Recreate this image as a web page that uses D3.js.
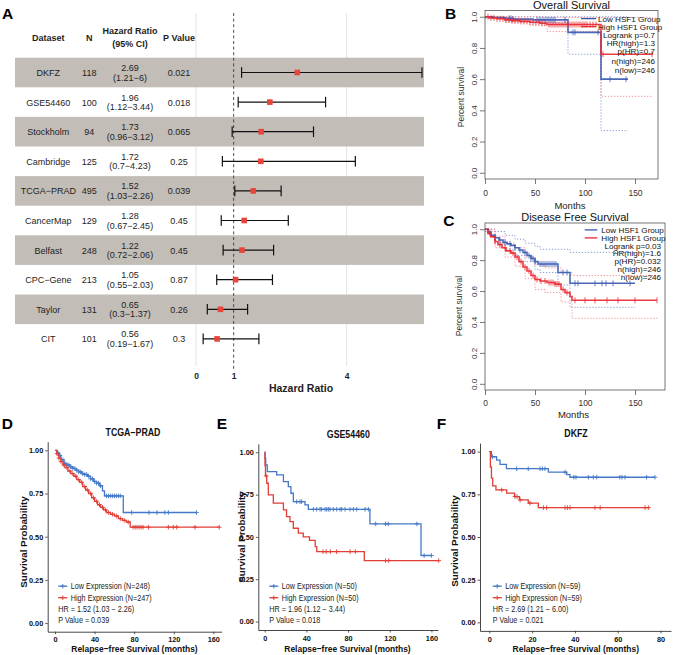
<!DOCTYPE html>
<html><head><meta charset="utf-8">
<script src="https://cdn.jsdelivr.net/npm/d3@7/dist/d3.min.js"></script>
<style>
html,body{margin:0;padding:0;background:#fff;}
svg{display:block;}
text{font-family:'Liberation Sans',Arial,Helvetica,sans-serif;}
</style></head><body>
<svg id="fig" width="676" height="655"></svg>
<script>
// ================= DATA =================
// Panel A: forest plot
const datasets = ["DKFZ","GSE54460","Stockholm","Cambridge","TCGA\u2212PRAD","CancerMap","Belfast","CPC\u2212Gene","Taylor","CIT"];
const sampleN  = [118,100,94,125,495,129,248,213,131,101];
const hr       = [2.69,1.96,1.73,1.72,1.52,1.28,1.22,1.05,0.65,0.56];
const hrLow    = [1.21,1.12,0.96,0.7,1.03,0.67,0.72,0.55,0.3,0.19];
const hrHigh   = [6,3.44,3.12,4.23,2.26,2.45,2.06,2.03,1.37,1.67];
const pValues  = ["0.021","0.018","0.065","0.25","0.039","0.45","0.45","0.87","0.26","0.3"];
const hrTicks  = [0,1,4];

// Panel B: Overall Survival (GEPIA)
const bLowT = [0,8,20,28,48,83,116];
const bLowS = [1.0,0.995,0.99,0.985,0.98,0.90,0.60];
const bLowEnd = 143;
const bLowCens = [24,26,28,52,54,56,58,60,62,64,66,68,70,80,88,90,113,125,141];
const bHighT = [0,5,12,20,27,35,45,55,62,116];
const bHighS = [1.0,0.993,0.987,0.98,0.975,0.97,0.965,0.958,0.95,0.76];
const bHighEnd = 168;
const bHighCens = [3,6,9,12,15,18,21,24,27,30,33,36,39,42,45,48,51,54,57,60,64,66,68,70,72,74,76,78,80,82,84,86,88,90,92,94,96,98,100,102,105,108,111,118,167];
const bLowUpT = [0,116]; const bLowUpS = [1.0,1.0]; const bLowUpEnd = 143;
const bLowLoT = [0,20,48,83,116]; const bLowLoS = [0.99,0.975,0.96,0.76,0.27]; const bLowLoEnd = 143;
const bHighUpT = [0,62,116]; const bHighUpS = [1.0,0.995,0.995]; const bHighUpEnd = 168;
const bHighLoT = [0,20,45,62,116]; const bHighLoS = [0.99,0.965,0.945,0.905,0.49]; const bHighLoEnd = 168;
const bStats = ["Logrank p=0.7","HR(high)=1.3","p(HR)=0.7","n(high)=246","n(low)=246"];

// Panel C: Disease Free Survival (GEPIA)
const cLowT = [0,3,6,10,14,18,22,26,30,34,38,42,46,50,53,73,85];
const cLowS = [1.0,0.98,0.96,0.945,0.93,0.915,0.905,0.895,0.88,0.865,0.85,0.83,0.81,0.79,0.775,0.72,0.65];
const cLowEnd = 150;
const cLowCens = [5,10,15,20,25,30,35,40,44,46,48,50,55,57,59,61,63,65,67,69,71,78,82,90,93,110,117,121,128,145];
const cHighT = [0,3,6,10,13,17,21,26,30,34,38,42,46,50,55,62,70,76,80,85,87];
const cHighS = [1.0,0.97,0.95,0.92,0.90,0.88,0.86,0.845,0.82,0.79,0.755,0.73,0.70,0.675,0.665,0.655,0.645,0.61,0.59,0.565,0.54];
const cHighEnd = 172;
const cHighCens = [5,10,15,20,25,28,32,36,40,44,48,52,56,60,64,66,68,70,72,74,78,82,90,100,110,122,133,150,172];
const cLowUpT = [0,10,20,30,40,50,55,85]; const cLowUpS = [1.0,0.985,0.96,0.935,0.91,0.89,0.87,0.85]; const cLowUpEnd = 150;
const cLowLoT = [0,10,20,30,40,50,55,73,85]; const cLowLoS = [0.985,0.91,0.87,0.83,0.79,0.74,0.72,0.64,0.495]; const cLowLoEnd = 150;
const cHighUpT = [0,10,20,30,40,50,60,76,87]; const cHighUpS = [1.0,0.955,0.91,0.88,0.82,0.77,0.75,0.72,0.70]; const cHighUpEnd = 173;
const cHighLoT = [0,10,20,30,40,50,60,76,87]; const cHighLoS = [0.985,0.88,0.82,0.76,0.68,0.61,0.59,0.53,0.424]; const cHighLoEnd = 173;
const cStats = ["Logrank p=0.03","HR(high)=1.6","p(HR)=0.032","n(high)=246","n(low)=246"];
const gepiaLegend = ["Low HSF1 Group","High HSF1 Group"];
const gepiaYTicks = [0,0.2,0.4,0.6,0.8,1.0];
const gepiaXTicks = [0,50,100,150];

// Panel D: TCGA-PRAD
const dLowT = [0,2,4,6,9,12,15,18,21,24,27,30,33,36,39,42,45,48,50,69];
const dLowS = [1.0,0.985,0.97,0.945,0.925,0.915,0.905,0.895,0.885,0.875,0.865,0.86,0.85,0.835,0.82,0.81,0.795,0.765,0.736,0.64];
const dLowEnd = 143;
const dLowCens = [3,5,8,10,12,14,16,18,20,22,24,26,28,30,32,34,36,38,40,42,44,46,52,54,56,58,60,62,64,66,77.5,95,103,111,114.6,143];
const dHighT = [0,2,4,6,8,10,13,16,19,22,25,28,31,34,37,40,43,46,49,52,56,60,64,68,72,76];
const dHighS = [1.0,0.98,0.955,0.935,0.915,0.9,0.88,0.865,0.85,0.83,0.815,0.79,0.77,0.75,0.725,0.705,0.685,0.67,0.655,0.64,0.63,0.62,0.605,0.595,0.585,0.555];
const dHighEnd = 166;
const dHighCens = [2,4,6,9,12,15,18,21,24,27,30,33,36,39,42,45,48,51,54,58,62,66,70,74,79,81,83,85,87,89,94.4,114.6,119.6,123,141.5,166];
const dLegend = ["Low Expression (N=248)","High Expression (N=247)","HR = 1.52 (1.03 \u2212 2.26)","P Value = 0.039"];

// Panel E: GSE54460
const eLowT = [0,0.3,1,2.5,11.5,18,22.7,25.2,27.5,38.7,41.9,101,150];
const eLowS = [1.0,0.965,0.925,0.886,0.866,0.826,0.797,0.758,0.708,0.689,0.663,0.577,0.39];
const eLowEnd = 160;
const eLowCens = [30.7,33.9,35.5,46.7,49.9,53.1,54.7,57.9,59.5,61.1,62.7,65.9,69.1,72.3,73.9,77.1,81.9,85.1,88.3,96.3,99.5,106.5,116,118.6,146,153,160];
const eHighT = [0,0.3,0.8,2,3.5,8.3,18,21,24.3,27.5,32.3,37,43,48.5,50,95.6];
const eHighS = [1.0,0.92,0.86,0.817,0.748,0.70,0.66,0.62,0.59,0.551,0.522,0.50,0.48,0.443,0.413,0.36];
const eHighEnd = 167;
const eHighCens = [1.5,56,59,63,69,82,87,116,119,167];
const eLegend = ["Low Expression (N=50)","High Expression (N=50)","HR = 1.96 (1.12 \u2212 3.44)","P Value = 0.018"];

// Panel F: DKFZ
const fLowT = [0,1,3.4,5,8,27.6,36.2,37.7];
const fLowS = [1.0,0.97,0.95,0.925,0.90,0.88,0.865,0.85];
const fLowEnd = 77.4;
const fLowCens = [1.5,12.8,18.2,23.7,24.8,26,35.4,39.5,40.5,46.3,48.6,50.2,61,62,63.4,73.5,77.4];
const fHighT = [0,0.5,1,1.6,3.1,8.1,11.8,14.1,18.2,22.9];
const fHighS = [1.0,0.91,0.845,0.80,0.776,0.757,0.737,0.717,0.698,0.672];
const fHighEnd = 75;
const fHighCens = [5.8,12,13,14.4,19,25.3,26.8,35.4,36.5,37.7,49.4,51.8,72.8,74.3];
const fLegend = ["Low Expression (N=59)","High Expression (N=59)","HR = 2.69 (1.21 \u2212 6.00)","P Value = 0.021"];
const survYTicks = [0,0.25,0.5,0.75,1.0];

// ================= DRAWING =================
const svg = d3.select("#fig");
const INK = "#1e1e1e";

function stepPts(t, s, end){ const p = t.map((v,i)=>[v,s[i]]); p.push([end, s[s.length-1]]); return p; }
function survAt(t, s, c){ const i = Math.max(0, d3.bisectRight(t, c) - 1); return s[i]; }

// ---- panel letters ----
function letter(ch, x, y){ svg.append("text").attr("x",x).attr("y",y).attr("font-size",15.5).attr("font-weight","bold").attr("fill","#000").text(ch); }
letter("A",2,19.3); letter("B",445,19.3); letter("C",443.3,226); letter("D",1.7,428.5); letter("E",216.7,429); letter("F",436.7,428.5);

// ---- Panel A ----
(function(){
  const g = svg.append("g");
  const fx = d3.scaleLinear().domain([0,6]).range([196,422]);
  const fy = d3.scaleBand().domain(datasets).range([57.7,353.7]);
  g.selectAll(".vgrid").data([0,4]).join("line")
    .attr("x1",d=>fx(d)).attr("x2",d=>fx(d)).attr("y1",13).attr("y2",366)
    .attr("stroke","#e2e2e2").attr("stroke-width",1);
  g.selectAll(".band").data(datasets.filter((d,i)=>i%2===0)).join("rect")
    .attr("x",15).attr("width",409).attr("y",d=>fy(d)).attr("height",fy.bandwidth())
    .attr("fill","#c3bdb8");
  g.append("line").attr("x1",fx(1)).attr("x2",fx(1)).attr("y1",13).attr("y2",370)
    .attr("stroke","#3a3a3a").attr("stroke-width",0.9).attr("stroke-dasharray","3,2.6");
  // header
  const hd = g.append("g").attr("font-size",9).attr("font-weight","bold").attr("fill",INK).attr("text-anchor","middle");
  hd.append("text").attr("x",48.3).attr("y",41.3).text("Dataset");
  hd.append("text").attr("x",89.3).attr("y",41.3).text("N");
  hd.append("text").attr("x",130).attr("y",34).text("Hazard Ratio");
  hd.append("text").attr("x",130).attr("y",47.3).text("(95% CI)");
  hd.append("text").attr("x",179).attr("y",41.3).text("P Value");
  const rows = g.selectAll(".row").data(datasets).join("g")
    .attr("transform",d=>`translate(0,${fy(d)+fy.bandwidth()/2})`)
    .attr("font-size",9).attr("fill",INK).attr("text-anchor","middle");
  rows.append("text").attr("x",48.3).attr("y",3.4).text(d=>d);
  rows.append("text").attr("x",89.3).attr("y",3.4).text((d,i)=>sampleN[i]);
  rows.append("text").attr("x",130).attr("y",-1.6).text((d,i)=>hr[i].toFixed(2));
  rows.append("text").attr("x",130).attr("y",8.2).text((d,i)=>`(${hrLow[i]}\u2212${hrHigh[i]})`);
  rows.append("text").attr("x",179).attr("y",3.4).text((d,i)=>pValues[i]);
  rows.append("line").attr("x1",(d,i)=>fx(hrLow[i])).attr("x2",(d,i)=>fx(hrHigh[i])).attr("y1",0).attr("y2",0)
    .attr("stroke","#111").attr("stroke-width",1.2);
  rows.append("line").attr("x1",(d,i)=>fx(hrLow[i])).attr("x2",(d,i)=>fx(hrLow[i])).attr("y1",-5.3).attr("y2",5.3)
    .attr("stroke","#111").attr("stroke-width",1.2);
  rows.append("line").attr("x1",(d,i)=>fx(hrHigh[i])).attr("x2",(d,i)=>fx(hrHigh[i])).attr("y1",-5.3).attr("y2",5.3)
    .attr("stroke","#111").attr("stroke-width",1.2);
  rows.append("rect").attr("x",(d,i)=>fx(hr[i])-2.8).attr("y",-2.8).attr("width",5.6).attr("height",5.6)
    .attr("fill","#e8443a");
  const ax = g.append("g").attr("transform","translate(0,370)")
    .call(d3.axisBottom(fx).tickValues(hrTicks).tickFormat(d3.format("d")).tickSize(0).tickPadding(3));
  ax.select(".domain").remove();
  ax.selectAll("text").attr("font-size",8.5).attr("font-weight","bold").attr("fill",INK).attr("font-family",null);
  g.append("text").attr("x",301).attr("y",391.7).attr("text-anchor","middle").attr("font-size",10.5)
    .attr("font-weight","bold").attr("fill",INK).text("Hazard Ratio");
})();

// ---- GEPIA panels (B, C) ----
function gepiaPanel(o){
  const g = svg.append("g");
  const x = d3.scaleLinear().domain([0,o.xMax]).range([485,o.right]);
  const y = d3.scaleLinear().domain([-0.04,1.04]).range([o.bottom,o.top]);
  const line = d3.line().x(d=>x(d[0])).y(d=>y(d[1])).curve(d3.curveStepAfter);
  const BLUE = "#3558b0", RED = "#e8262e";
  o.cis.forEach(ci=>{
    g.append("path").attr("d",line(stepPts(ci.t,ci.s,ci.end))).attr("fill","none")
      .attr("stroke",ci.c===0?"#7f95d0":"#f08a8f").attr("stroke-width",0.9).attr("stroke-dasharray","1.3,1.7");
  });
  [[o.low,BLUE],[o.high,RED]].forEach(([cv,col])=>{
    g.append("path").attr("d",line(stepPts(cv.t,cv.s,cv.end))).attr("fill","none")
      .attr("stroke",col).attr("stroke-width",1.6).attr("stroke-opacity",0.9);
    g.selectAll(null).data(cv.cens).join("line")
      .attr("x1",d=>x(d)).attr("x2",d=>x(d))
      .attr("y1",d=>y(survAt(cv.t,cv.s,d))-3).attr("y2",d=>y(survAt(cv.t,cv.s,d))+3)
      .attr("stroke",col).attr("stroke-width",1).attr("stroke-opacity",0.75);
  });
  g.append("rect").attr("x",485).attr("y",o.top).attr("width",o.right-485).attr("height",o.bottom-o.top)
    .attr("fill","none").attr("stroke","#555").attr("stroke-width",0.8);
  const ya = g.append("g").attr("transform","translate(485,0)")
    .call(d3.axisLeft(y).tickValues(gepiaYTicks).tickFormat(d3.format(".1f")).tickSize(5));
  ya.select(".domain").remove();
  ya.selectAll("line").attr("stroke","#555").attr("stroke-width",0.8);
  ya.selectAll("text").attr("transform","rotate(-90)").attr("x",0).attr("y",-8).attr("dy",null)
    .attr("text-anchor","middle").attr("font-size",8).attr("fill","#333");
  ya.attr("font-family",null);
  const xa = g.append("g").attr("transform",`translate(0,${o.bottom})`)
    .call(d3.axisBottom(x).tickValues(gepiaXTicks).tickFormat(d3.format("d")).tickSize(5));
  xa.select(".domain").remove();
  xa.selectAll("line").attr("stroke","#555").attr("stroke-width",0.8);
  xa.selectAll("text").attr("y",o.tickY).attr("dy",null).attr("font-size",8.5).attr("fill","#333");
  xa.attr("font-family",null);
  g.append("text").attr("x",(485+o.right)/2).attr("y",o.titleY).attr("text-anchor","middle")
    .attr("font-size",11).attr("fill","#111").text(o.title);
  g.append("text").attr("x",(485+o.right)/2-1.5).attr("y",o.monthsY).attr("text-anchor","middle")
    .attr("font-size",9.5).attr("fill","#222").text("Months");
  g.append("text").attr("transform",`translate(${o.ylabX},${o.ylabY}) rotate(-90)`).attr("text-anchor","middle")
    .attr("font-size",8.5).attr("fill","#333").text("Percent survival");
  // legend
  const L = o.leg;
  [[BLUE,0],[RED,1]].forEach(([col,i])=>{
    g.append("line").attr("x1",L.lx0).attr("x2",L.lx1).attr("y1",L.rows[i]).attr("y2",L.rows[i])
      .attr("stroke",col).attr("stroke-width",1.3);
    g.append("text").attr("x",L.tx).attr("y",L.rows[i]+2.9).attr("font-size",8.1).attr("fill","#111").text(gepiaLegend[i]);
  });
  o.stats.forEach((s,i)=>{
    g.append("text").attr("x",L.rx).attr("y",L.rows[i+2]+2.9).attr("text-anchor","end")
      .attr("font-size",8.1).attr("fill","#111").text(s);
  });
}
gepiaPanel({
  xMax:173, right:658, top:10.5, bottom:179, tickY:17, title:"Overall Survival", titleY:8.6, monthsY:208.5,
  ylabX:463.5, ylabY:97,
  low:{t:bLowT,s:bLowS,end:bLowEnd,cens:bLowCens}, high:{t:bHighT,s:bHighS,end:bHighEnd,cens:bHighCens},
  cis:[{t:bLowUpT,s:bLowUpS,end:bLowUpEnd,c:0},{t:bLowLoT,s:bLowLoS,end:bLowLoEnd,c:0},
       {t:bHighUpT,s:bHighUpS,end:bHighUpEnd,c:1},{t:bHighLoT,s:bHighLoS,end:bHighLoEnd,c:1}],
  stats:bStats,
  leg:{lx0:581,lx1:596,tx:598,rx:655,rows:[18.6,26.6,34.8,43.1,51.5,60.6,69.6]}
});
gepiaPanel({
  xMax:180, right:665, top:223, bottom:390, tickY:15.5, title:"Disease Free Survival", titleY:220.5, monthsY:418,
  ylabX:461.5, ylabY:306,
  low:{t:cLowT,s:cLowS,end:cLowEnd,cens:cLowCens}, high:{t:cHighT,s:cHighS,end:cHighEnd,cens:cHighCens},
  cis:[{t:cLowUpT,s:cLowUpS,end:cLowUpEnd,c:0},{t:cLowLoT,s:cLowLoS,end:cLowLoEnd,c:0},
       {t:cHighUpT,s:cHighUpS,end:cHighUpEnd,c:1},{t:cHighLoT,s:cHighLoS,end:cHighLoEnd,c:1}],
  stats:cStats,
  leg:{lx0:584.7,lx1:597.3,tx:601.3,rx:661,rows:[229.9,237.9,245.8,253.5,261.4,269.2,277.3]}
});

// ---- survminer panels (D, E, F) ----
const SQ = 0.88;
function sqText(g, x, y, str, o){
  return g.append("text").attr("transform",`translate(${x},${y}) scale(${SQ},1)`)
    .attr("text-anchor",o.anchor||"start").attr("font-size",o.size).attr("font-weight",o.bold?"bold":"normal")
    .attr("fill",o.fill||"#111").text(str);
}
function survPanel(o){
  const g = svg.append("g");
  const x = d3.scaleLinear().domain(o.xDom).range(o.xRange);
  const y = d3.scaleLinear().domain([-0.05,1.05]).range(o.yRange);
  const BLUE = "#4478c6", RED = "#e23d36";
  const line = d3.line().x(d=>x(d[0])).y(d=>y(d[1])).curve(d3.curveStepAfter);
  const plus = (sel, col) => sel.append("path").attr("d","M-2.3,0H2.3M0,-2.3V2.3").attr("stroke",col).attr("stroke-width",0.9).attr("fill","none");
  [[o.low,BLUE],[o.high,RED]].forEach(([cv,col])=>{
    g.append("path").attr("d",line(stepPts(cv.t,cv.s,cv.end))).attr("fill","none")
      .attr("stroke",col).attr("stroke-width",1.3);
    const cg = g.selectAll(null).data(cv.cens).join("g")
      .attr("transform",d=>`translate(${x(d)},${y(survAt(cv.t,cv.s,d))})`);
    plus(cg,col);
  });
  const ya = g.append("g").attr("transform",`translate(${o.xRange[0]},0)`)
    .call(d3.axisLeft(y).tickValues(survYTicks).tickFormat(d3.format(".2f")).tickSize(2.5).tickPadding(2).tickSizeOuter(0));
  const xa = g.append("g").attr("transform",`translate(0,${o.yRange[0]})`)
    .call(d3.axisBottom(x).tickValues(o.xTicks).tickFormat(d3.format("d")).tickSize(2.5).tickPadding(3).tickSizeOuter(0));
  [ya,xa].forEach(a=>{
    a.attr("font-family",null);
    a.select(".domain").attr("stroke","#333").attr("stroke-width",0.9);
    a.selectAll(".tick line").attr("stroke","#333").attr("stroke-width",0.8);
    a.selectAll("text").attr("font-size",7.3).attr("font-weight","bold").attr("fill","#111");
  });
  sqText(g, o.titleX, o.titleY, o.title, {anchor:"middle",size:10,bold:true});
  sqText(g, o.xlabX, o.xlabY, "Relapse\u2212free Survival (months)", {anchor:"middle",size:9.6,bold:true});
  g.append("text").attr("transform",`translate(${o.ylabX},${o.ylabY}) rotate(-90)`).attr("text-anchor","middle")
    .attr("font-size",9.8).attr("font-weight","bold").attr("fill","#111").text("Survival Probability");
  const rows = [586.2,597.7,609.2,620.2];
  [[BLUE,0],[RED,1]].forEach(([col,i])=>{
    g.append("line").attr("x1",o.legX).attr("x2",o.legX+9).attr("y1",rows[i]).attr("y2",rows[i]).attr("stroke",col).attr("stroke-width",1.3);
    plus(g.append("g").attr("transform",`translate(${o.legX+4.5},${rows[i]})`),col);
    sqText(g, o.legX+12.5, rows[i]+3, o.legend[i], {size:8.2, fill:"#222"});
  });
  sqText(g, o.legX, rows[2]+3, o.legend[2], {size:8.2, fill:"#222"});
  sqText(g, o.legX, rows[3]+3, o.legend[3], {size:8.2, fill:"#222"});
}
survPanel({
  xDom:[-7.4,168.5], xRange:[47.7,221.7], yRange:[631.7,441.7], xTicks:[0,40,80,120,160],
  title:"TCGA\u2212PRAD", titleX:133, titleY:435.5, xlabX:134.5, xlabY:652, ylabX:27, ylabY:542,
  legX:58.3, legend:dLegend,
  low:{t:dLowT,s:dLowS,end:dLowEnd,cens:dLowCens}, high:{t:dHighT,s:dHighS,end:dHighEnd,cens:dHighCens}
});
survPanel({
  xDom:[-6.1,166.3], xRange:[258.3,438], yRange:[630,443.8], xTicks:[0,40,80,120,160],
  title:"GSE54460", titleX:348.3, titleY:437.5, xlabX:347.5, xlabY:651.5, ylabX:244.5, ylabY:537,
  legX:269.3, legend:eLegend,
  low:{t:eLowT,s:eLowS,end:eLowEnd,cens:eLowCens}, high:{t:eHighT,s:eHighS,end:eHighEnd,cens:eHighCens}
});
survPanel({
  xDom:[-4.35,84.9], xRange:[480,671], yRange:[630.9,443.1], xTicks:[0,20,40,60,80],
  title:"DKFZ", titleX:576, titleY:436.5, xlabX:575.8, xlabY:651.5, ylabX:458, ylabY:541,
  legX:492.7, legend:fLegend,
  low:{t:fLowT,s:fLowS,end:fLowEnd,cens:fLowCens}, high:{t:fHighT,s:fHighS,end:fHighEnd,cens:fHighCens}
});
</script>
</body></html>
